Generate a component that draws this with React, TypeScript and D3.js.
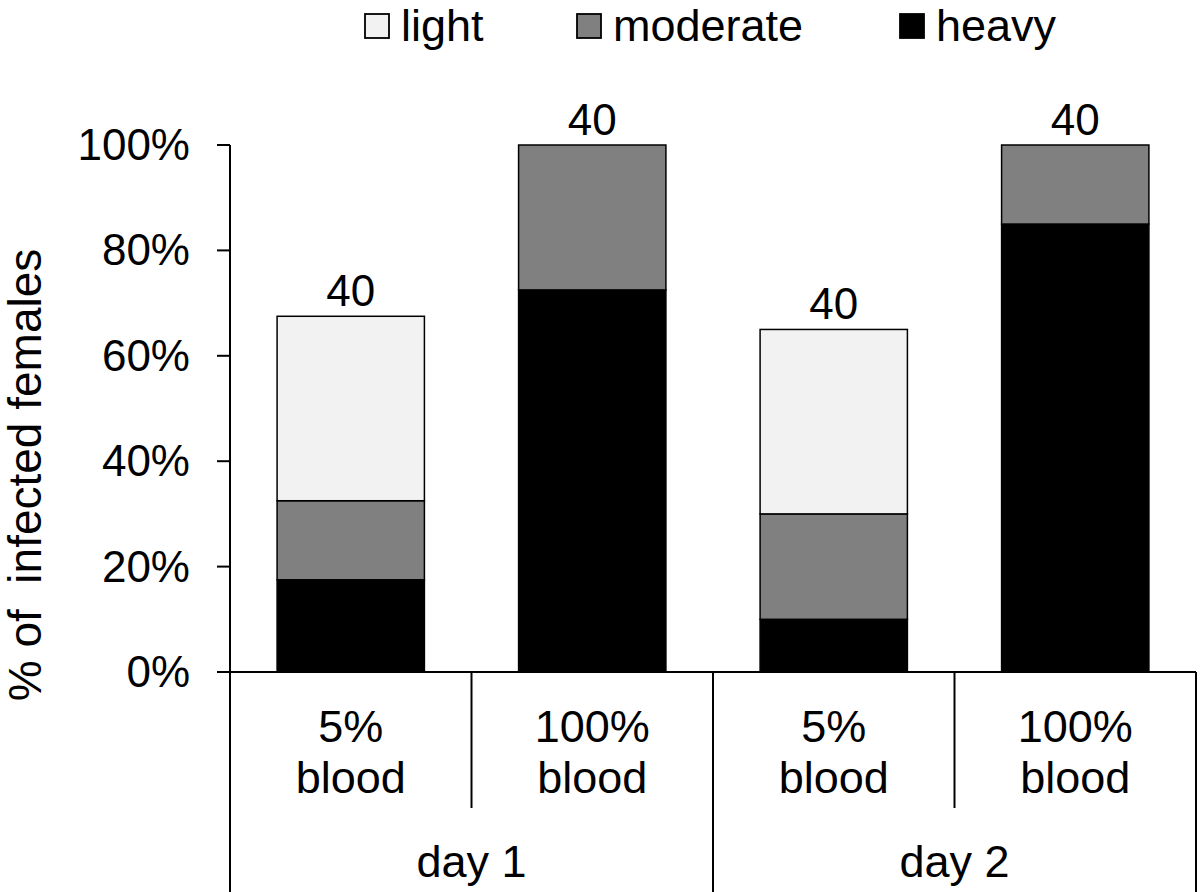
import React from "react";
import * as d3 from "d3";

const categories = ["d1-5", "d1-100", "d2-5", "d2-100"];
const doseLabels = [["5%", "blood"], ["100%", "blood"], ["5%", "blood"], ["100%", "blood"]];
const dayLabels = ["day 1", "day 2"];
const heavy = [0.175, 0.725, 0.1, 0.85];
const moderate = [0.15, 0.275, 0.2, 0.15];
const light = [0.35, 0, 0.35, 0];
const nLabels = ["40", "40", "40", "40"];
const yTicks = [0, 0.2, 0.4, 0.6, 0.8, 1.0];
const seriesKeys = ["heavy", "moderate", "light"];
const legendKeys = ["light", "moderate", "heavy"];
const colors: Record<string, string> = { light: "#f2f2f2", moderate: "#808080", heavy: "#000000" };

const FONT = "'Liberation Sans', Arial, Helvetica, sans-serif";

export default function App() {
  const W = 1200, H = 892;
  const left = 230, right = 1196, top = 145, bottom = 672;
  const x = d3.scaleBand<string>().domain(categories).range([left, right]).paddingInner(0.39).paddingOuter(0.195);
  const y = d3.scaleLinear().domain([0, 1]).range([bottom, top]);
  const rows = categories.map((c, i) => ({ cat: c, heavy: heavy[i], moderate: moderate[i], light: light[i] }));
  const stacked = d3.stack<any>().keys(seriesKeys)(rows);
  const fmt = d3.format(".0%");
  const step = x.step();
  const legendX = [365, 577, 900];

  return (
    <svg width={W} height={H} style={{ position: "absolute", left: 0, top: 0, background: "#fff" }} fontFamily={FONT}>
      <rect x={0} y={0} width={W} height={H} fill="#fff" />
      {/* legend */}
      {legendKeys.map((k, i) => (
        <g key={k}>
          <rect x={legendX[i]} y={14} width={24} height={24} fill={colors[k]} stroke="#000" strokeWidth={1.8} />
          <text x={legendX[i] + 36} y={41} fontSize={45} fill="#000">{k}</text>
        </g>
      ))}
      {/* bars */}
      {stacked.map((s) => (
        <g key={s.key}>
          {s.map((d, i) => (
            d[1] - d[0] > 0 ? (
              <rect key={i} x={x(categories[i])!} y={y(d[1])} width={x.bandwidth()} height={y(d[0]) - y(d[1])}
                fill={colors[s.key]} stroke="#000" strokeWidth={1.5} />
            ) : null
          ))}
        </g>
      ))}
      {/* n labels */}
      {categories.map((c, i) => (
        <text key={c} x={x(c)! + x.bandwidth() / 2} y={y(heavy[i] + moderate[i] + light[i]) - 10}
          fontSize={44} textAnchor="middle" fill="#000">{nLabels[i]}</text>
      ))}
      {/* y axis */}
      <line x1={left} x2={left} y1={top} y2={bottom} stroke="#000" strokeWidth={2} />
      {yTicks.map((t) => (
        <g key={t}>
          <line x1={left - 13} x2={left} y1={y(t)} y2={y(t)} stroke="#000" strokeWidth={2} />
          <text x={190} y={y(t) + 15} fontSize={44} textAnchor="end" fill="#000">{fmt(t)}</text>
        </g>
      ))}
      <text transform={`translate(41,475) rotate(-90)`} fontSize={46} textAnchor="middle" fill="#000">
        {"% of\u00a0 infected females"}
      </text>
      {/* category axis */}
      <line x1={left - 13} x2={right} y1={bottom} y2={bottom} stroke="#000" strokeWidth={2} />
      {[0, 2, 4].map((k) => (
        <line key={"g" + k} x1={left + k * step} x2={left + k * step} y1={bottom} y2={H} stroke="#000" strokeWidth={2} />
      ))}
      {[1, 3].map((k) => (
        <line key={"s" + k} x1={left + k * step} x2={left + k * step} y1={bottom} y2={808} stroke="#000" strokeWidth={2} />
      ))}
      {categories.map((c, i) => (
        <g key={"lab" + c}>
          <text x={x(c)! + x.bandwidth() / 2} y={742} fontSize={45} textAnchor="middle" fill="#000">{doseLabels[i][0]}</text>
          <text x={x(c)! + x.bandwidth() / 2} y={793} fontSize={45} textAnchor="middle" fill="#000">{doseLabels[i][1]}</text>
        </g>
      ))}
      {dayLabels.map((d, i) => (
        <text key={d} x={left + (2 * i + 1) * step} y={877} fontSize={45} textAnchor="middle" fill="#000">{d}</text>
      ))}
    </svg>
  );
}
